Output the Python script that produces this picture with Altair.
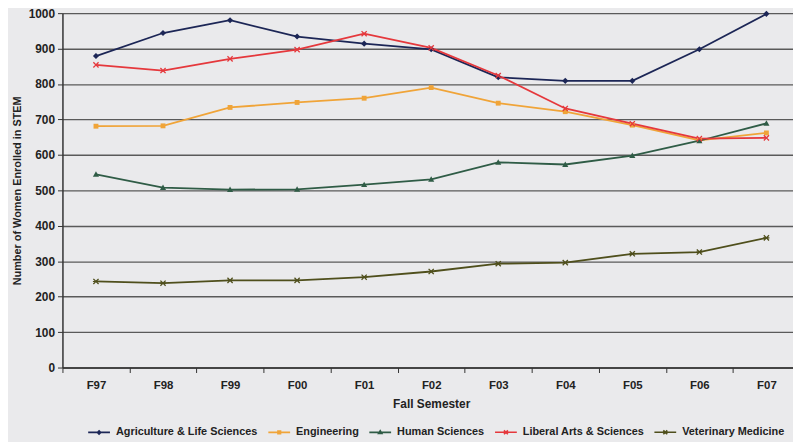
import altair as alt
import pandas as pd

semesters = ["F97", "F98", "F99", "F00", "F01", "F02", "F03", "F04", "F05", "F06", "F07"]
series_names = ["Agriculture & Life Sciences", "Engineering", "Human Sciences",
                "Liberal Arts & Sciences", "Veterinary Medicine"]
agriculture = [879, 944, 980, 934, 914, 898, 819, 809, 809, 898, 998]
engineering = [681, 682, 734, 748, 760, 790, 746, 722, 684, 641, 662]
human = [545, 508, 502, 503, 516, 531, 579, 573, 598, 640, 689]
liberal = [854, 838, 871, 897, 942, 902, 824, 731, 688, 646, 648]
veterinary = [243, 238, 246, 246, 255, 271, 293, 296, 321, 326, 366]
colors = ["#1c2656", "#f0a438", "#2f5c46", "#e5383c", "#4f4f1c"]

values = [agriculture, engineering, human, liberal, veterinary]
rows = []
for name, vals in zip(series_names, values):
    for s, v in zip(semesters, vals):
        rows.append({"sem": s, "series": name, "value": v})
df = pd.DataFrame(rows)

# marker shapes (unit box -1..1)
diamond = "M0,-1L1,0L0,1L-1,0Z"
square = "M-0.8,-0.8H0.8V0.8H-0.8Z"
triangle = "M0,-1L1,0.8H-1Z"
xshape = "M-1,-0.7L-0.7,-1L0,-0.3L0.7,-1L1,-0.7L0.3,0L1,0.7L0.7,1L0,0.3L-0.7,1L-1,0.7L-0.3,0Z"
star = xshape + "M-1,-0.18H1V0.18H-1Z"
markers = [diamond, square, triangle, xshape, star]

# legend symbols: line segment + small marker (stroked)
leg_markers = [
    "M-1,0H1M0,-0.15L0.15,0L0,0.15L-0.15,0Z",
    "M-1,0H1M-0.12,-0.12H0.12V0.12H-0.12Z",
    "M-1,0H1M0,-0.15L0.15,0.1H-0.15Z",
    "M-1,0H1M-0.18,-0.18L0.18,0.18M-0.18,0.18L0.18,-0.18",
    "M-1,0H1M-0.18,-0.18L0.18,0.18M-0.18,0.18L0.18,-0.18M-0.18,0H0.18",
]

font = "Liberation Sans"
plot_w = 738
plot_h = 358

x_enc = alt.X(
    "sem:N",
    sort=semesters,
    bandPosition=0.5,
    scale=alt.Scale(type="band", domain=semesters, paddingInner=0, paddingOuter=0, range=[0, 745]),
    axis=alt.Axis(
        title="Fall Semester",
        labelAngle=0,
        labelFontSize=11.5,
        titleFontSize=12,
        tickBand="extent",
        tickSize=5,
        tickWidth=1,
        tickColor="#333333",
        labelPadding=7,
        titlePadding=8,
        grid=False,
        domainColor="#333333",
        domainWidth=1.5,
    ),
)
y_enc = alt.Y(
    "value:Q",
    scale=alt.Scale(domain=[0, 1000], nice=False),
    axis=alt.Axis(
        title="Number of Women Enrolled in STEM",
        values=list(range(0, 1001, 100)),
        format="d",
        labelFontSize=12,
        titleFontSize=11,
        tickSize=5,
        tickColor="#333333",
        labelPadding=3,
        titlePadding=6,
        grid=True,
        gridColor="#5a5a5a",
        gridWidth=1.4,
        domainColor="#333333",
        domainWidth=1.5,
    ),
)

layers = []
for name, col in zip(series_names, colors):
    base = alt.Chart(df).transform_filter(alt.datum.series == name)
    layers.append(base.mark_line(strokeWidth=1.8, color=col).encode(x=x_enc, y=y_enc))
for name, col, shp in zip(series_names, colors, markers):
    base = alt.Chart(df).transform_filter(alt.datum.series == name)
    layers.append(base.mark_point(filled=True, size=38, opacity=1, shape=shp, color=col)
                  .encode(x=x_enc, y=y_enc))

# legend-only layer (points drawn with zero size, stroked symbols)
legend_layer = alt.Chart(df).mark_point(filled=False, size=0).encode(
    x=x_enc, y=y_enc,
    color=alt.Color("series:N", scale=alt.Scale(domain=series_names, range=colors), title=None),
    shape=alt.Shape("series:N", scale=alt.Scale(domain=series_names, range=leg_markers), title=None),
)
layers.append(legend_layer)

chart = alt.layer(*layers).properties(
    width=plot_w,
    height=plot_h,
    background="#eaeaec",
    padding={"left": 55, "top": 3, "right": 0, "bottom": 73},
    autosize=alt.AutoSizeParams(type="none"),
).configure_view(
    stroke=None, fill="#eaeaec"
).configure_axis(
    labelFont=font, labelFontSize=11, labelFontWeight="bold", labelColor="#222222",
    titleFont=font, titleFontSize=11, titleFontWeight="bold", titleColor="#222222",
).configure_legend(
    orient="none", legendX=25, legendY=411, direction="horizontal",
    symbolSize=484, symbolStrokeWidth=1.6, symbolOpacity=1,
    labelFont=font, labelFontSize=11, labelFontWeight="bold",
    labelColor="#222222", labelOffset=5, columnPadding=6, padding=0,
)

chart.save("out.html", embed_options={"renderer": "svg", "actions": False})
